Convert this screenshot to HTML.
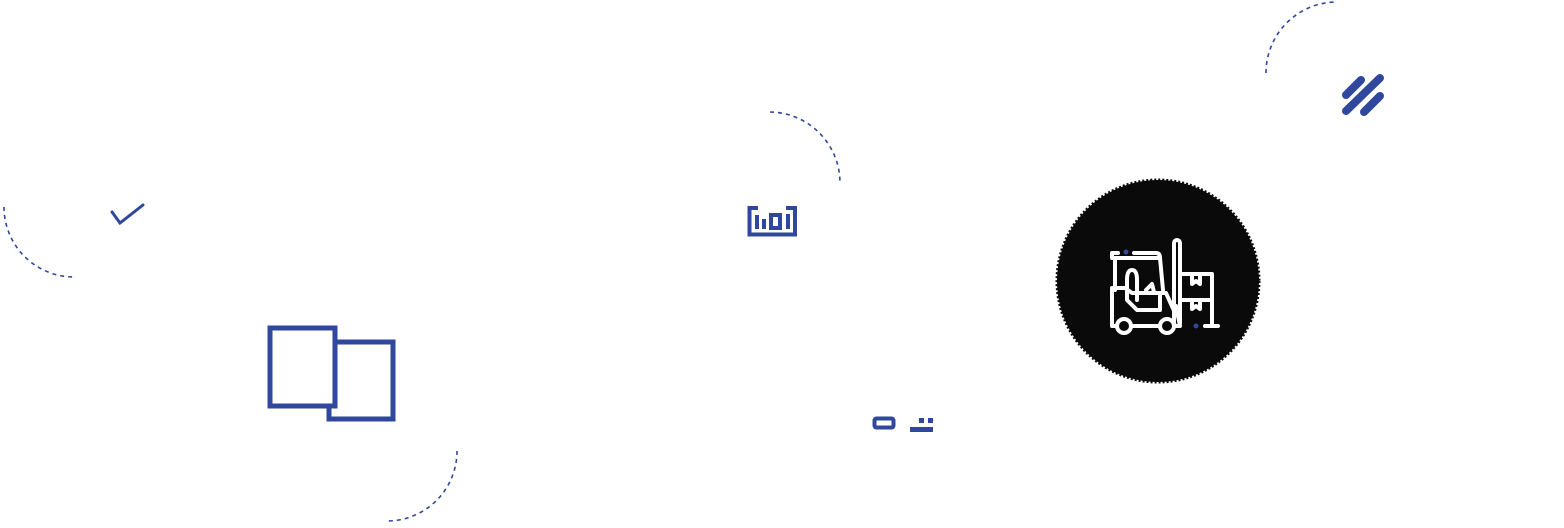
<!DOCTYPE html>
<html><head><style>html,body{margin:0;padding:0;background:#fff;}</style></head>
<body>
<svg width="1564" height="523" viewBox="0 0 1564 523" xmlns="http://www.w3.org/2000/svg">
<g fill="none" stroke="#2f479c" stroke-width="1.6" stroke-dasharray="4 4">
<path d="M1266 73 A71 71 0 0 1 1337 2"/>
<path d="M770 112 A71 71 0 0 1 840 183"/>
<path d="M4 207 A70 70 0 0 0 74 277"/>
<path d="M457 451 A70 70 0 0 1 387 521"/>
</g>
<g stroke="#2f479c" stroke-linecap="round" fill="none">
<line x1="1346" y1="111" x2="1380" y2="78" stroke-width="8"/>
<line x1="1346" y1="95" x2="1361" y2="80" stroke-width="8"/>
<line x1="1364" y1="112" x2="1380" y2="96" stroke-width="8"/>
<polyline points="112,212 120,223 143,205" stroke-width="3"/>
</g>
<g fill="none" stroke="#2f479c" stroke-width="5">
<rect x="329" y="342" width="64" height="77"/>
<rect x="270" y="328" width="65" height="78" fill="#fff"/>
</g>
<g fill="none" stroke="#2f479c" stroke-width="4">
<path d="M758 208 H749.5 V234.5 H795 V208 H786"/>
<line x1="757" y1="215" x2="757" y2="229"/>
<line x1="764" y1="219" x2="764" y2="229"/>
<rect x="771" y="215" width="9" height="13"/>
<line x1="788" y1="214" x2="788" y2="229"/>
<rect x="874.5" y="418.5" width="19" height="9" rx="2"/>
</g>
<g fill="#2f479c">
<rect x="910" y="427" width="23" height="5"/>
<rect x="919" y="418" width="5" height="5"/>
<rect x="928" y="418" width="5" height="5"/>
</g>
<circle cx="1158" cy="281" r="101" fill="#0a0a0a" stroke="#0a0a0a" stroke-width="3" stroke-dasharray="2 2"/>
<g fill="none" stroke="#fff" stroke-width="4" stroke-linecap="round" stroke-linejoin="round">
<path d="M1117 258 H1112 V253 H1118 M1134 253 H1156 Q1160 253 1160 258 H1115 V290"/>
<path d="M1115 258 L1115 288 M1160 258 L1163 290"/>
<path d="M1112 290 V326 H1117 M1133 326 H1160 M1174 326 H1180 L1176 306 V315 L1166 293 H1132 L1125 288 H1112"/>
<path d="M1137 300 V280 Q1137 270 1132 270 Q1127 270 1127 280 V300 L1137 310 H1160 V293"/>
<path d="M1146 290 L1152 284 L1154 292"/>
<rect x="1174" y="240" width="6" height="86" rx="3"/>
<path d="M1180 274 H1212 V326 M1180 300 H1212 M1205 326 H1218"/>
<path d="M1192 274 V284 L1196 281 L1200 284 V274 M1192 300 V309 L1196 306 L1200 309 V300"/>
<circle cx="1124" cy="326" r="7"/>
<circle cx="1167" cy="326" r="7"/>
</g>
<circle cx="1126" cy="252" r="2.5" fill="#2f479c"/>
<circle cx="1196" cy="326" r="2.5" fill="#2f479c"/>
</svg>
</body></html>
